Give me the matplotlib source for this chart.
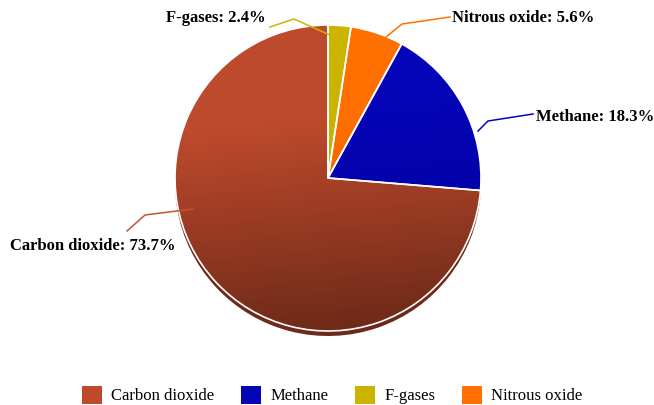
import numpy as np
import matplotlib
matplotlib.use("Agg")
import matplotlib.pyplot as plt
from matplotlib.patches import Patch

# data, in clockwise order from 12 o'clock
gases = ["F-gases", "Nitrous oxide", "Methane", "Carbon dioxide"]
shares = [2.4, 5.6, 18.3, 73.7]
colors = ["#CBB400", "#FF7000", "#0505B8", "#BE4A2D"]
dark_colors = ["#B09A00", "#D85000", "#000096", "#6E2A18"]
legend_order = ["Carbon dioxide", "Methane", "F-gases", "Nitrous oxide"]

W, H = 654, 405
CX, CY, R = 328, H - 178, 153

fig = plt.figure(figsize=(W / 100, H / 100), dpi=100)
ax = fig.add_axes([0, 0, 1, 1])

# rim underneath (fake 3d edge)
ax.pie(shares, colors=dark_colors, startangle=90, counterclock=False,
       center=(CX, CY - 5), radius=R, frame=True,
       wedgeprops=dict(linewidth=0))
wedges, _ = ax.pie(shares, colors=colors, startangle=90, counterclock=False,
                   center=(CX, CY), radius=R, frame=True,
                   wedgeprops=dict(edgecolor="white", linewidth=1.2))

# vertical gradient, lighter at top, darker at bottom
yy, xx = np.mgrid[0:1:200j, 0:1:200j]
t = np.clip((yy - 0.3) / 0.7 + 0.15 * (xx - 0.5), 0, 1)
for w, c, d in zip(wedges, colors, dark_colors):
    c1 = np.array(matplotlib.colors.to_rgb(c))
    c2 = np.array(matplotlib.colors.to_rgb(d))
    img = c1[None, None, :] * (1 - t[..., None]) + c2[None, None, :] * t[..., None]
    im = ax.imshow(img, extent=(CX - R, CX + R, CY - R, CY + R), origin="upper",
                   zorder=w.get_zorder() + 0.1, interpolation="bilinear")
    im.set_clip_path(w)
    w.set_facecolor("none")
    w.set_zorder(w.get_zorder() + 0.2)

ax.set_xlim(0, W)
ax.set_ylim(0, H)
ax.set_aspect("equal")
ax.axis("off")

# labels with elbow leader lines
label_text = [f"{g}: {s}%" for g, s in zip(gases, shares)]
label_pos = [(266, H - 18, "right"), (452, H - 18, "left"),
             (536, H - 117, "left"), (176, H - 246, "right")]
leaders = [[(270, H - 27), (294, H - 19), (341, H - 40)],
           [(450, H - 17), (402, H - 24), (386, H - 37)],
           [(533, H - 114), (488, H - 121), (478, H - 131)],
           [(127, H - 231), (145, H - 215), (193, H - 209)]]
line_colors = ["#CBB400", "#FF7000", "#0505B8", "#C8502E"]
for i in range(len(shares)):
    pts = leaders[i]
    ax.plot([p[0] for p in pts], [p[1] for p in pts], color=line_colors[i],
            lw=1.1, zorder=10)
    x, y, ha = label_pos[i]
    ax.text(x, y, label_text[i], ha=ha, va="center", fontsize=12, fontweight="bold",
            family="Liberation Serif", color="black", zorder=11)

handles = [Patch(facecolor=colors[gases.index(g)], edgecolor="none") for g in legend_order]
leg = fig.legend(handles, legend_order, loc="center", bbox_to_anchor=(0.508, 10 / H),
                 ncol=4, frameon=False, handlelength=1.2, handleheight=1.3,
                 columnspacing=1.6, handletextpad=0.55,
                 prop=dict(family="Liberation Serif", size=12))

fig.savefig("out.png", dpi=100)
